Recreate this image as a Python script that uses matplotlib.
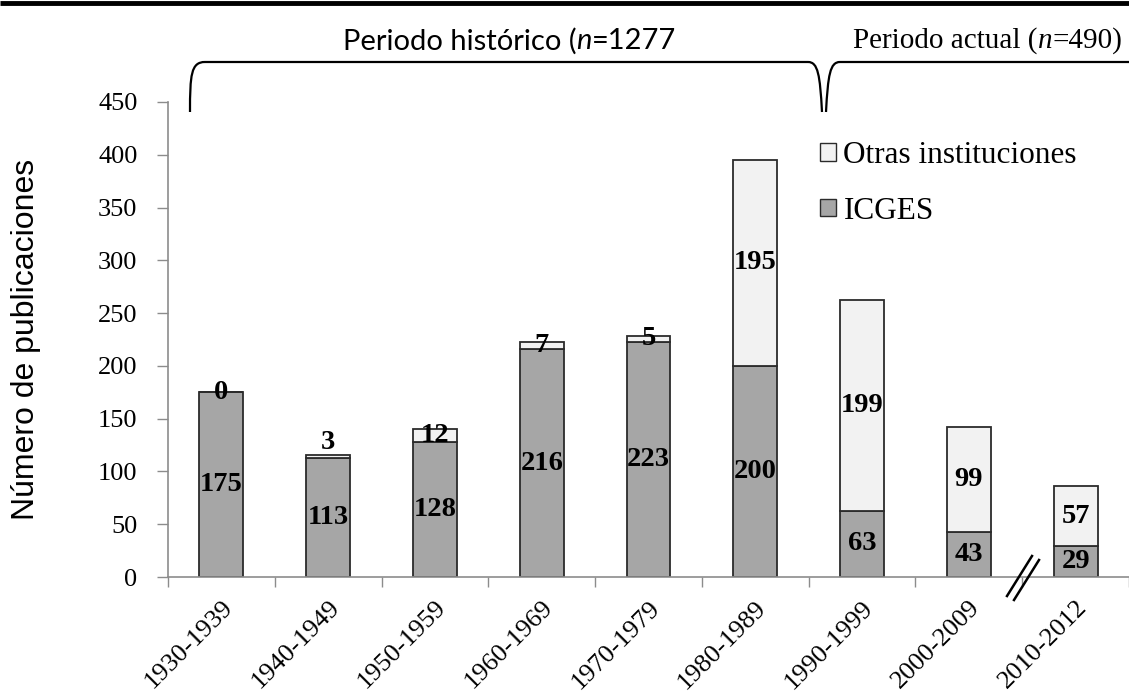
import numpy as np
import matplotlib
matplotlib.use('Agg')
import matplotlib.pyplot as plt
from matplotlib.path import Path
from matplotlib.patches import PathPatch, Patch

# data
periods = ['1930-1939', '1940-1949', '1950-1959', '1960-1969', '1970-1979',
           '1980-1989', '1990-1999', '2000-2009', '2010-2012']
icges = [175, 113, 128, 216, 223, 200, 63, 43, 29]
otras = [0, 3, 12, 7, 5, 195, 199, 99, 57]

C_ICGES = '#a6a6a6'
C_OTRAS = '#f2f2f2'
C_EDGE = '#2b2b2b'
C_AXIS = '#8c8c8c'
SERIF = 'Liberation Serif'

W, H = 1129, 694
fig = plt.figure(figsize=(W / 100, H / 100), dpi=100)
ax = fig.add_axes([168 / W, 1 - 577 / H, 961 / W, 475 / H])

x = np.arange(len(periods))
bw = 0.41
ax.bar(x, icges, bw, color=C_ICGES, edgecolor=C_EDGE, linewidth=1.3,
       label='ICGES', zorder=2)
ax.bar(x, otras, bw, bottom=icges, color=C_OTRAS, edgecolor=C_EDGE,
       linewidth=1.3, label='Otras instituciones', zorder=2)

lab_kw = dict(ha='center', va='center', fontsize=20.5, fontweight='bold',
              family=SERIF, zorder=3)
for i in range(len(periods)):
    ax.text(x[i], icges[i] / 2, str(icges[i]), **lab_kw)
    y2 = icges[i] + otras[i] / 2
    if periods[i] == '1940-1949':
        y2 += 13  # small segment, label sits above the bar
    ax.text(x[i], y2, str(otras[i]), **lab_kw)

ax.set_xlim(-0.5, len(periods) - 0.5)
ax.set_ylim(0, 450)
ax.set_yticks(np.arange(0, 451, 50))
ax.set_xticks(x)
ax.set_xticks(np.arange(-0.5, len(periods), 1), minor=True)
ax.set_xticklabels(periods, rotation=45, ha='right', rotation_mode='anchor',
                   family=SERIF, fontsize=19)
ax.tick_params(axis='x', which='major', length=0, pad=14)
ax.tick_params(axis='x', which='minor', length=7, color=C_AXIS, width=1)
ax.tick_params(axis='y', length=8, color=C_AXIS, width=1, pad=14)
for t in ax.get_yticklabels():
    t.set_family(SERIF)
    t.set_fontsize(19)
for s in ['top', 'right']:
    ax.spines[s].set_visible(False)
for s in ['left', 'bottom']:
    ax.spines[s].set_color(C_AXIS)
    ax.spines[s].set_linewidth(1.2)

ax.set_ylabel('Número de publicaciones', family='Liberation Sans', fontsize=23,
              va='center')
ax.yaxis.set_label_coords((26 - 168) / 961, 0.5)

handles = [Patch(facecolor=C_OTRAS, edgecolor=C_EDGE, label='Otras instituciones'),
           Patch(facecolor=C_ICGES, edgecolor=C_EDGE, label='ICGES')]
ax.legend(handles=handles, loc='upper left',
          bbox_to_anchor=((820 - 168) / 961, (577 - 141) / 475),
          frameon=False, borderpad=0, borderaxespad=0,
          handlelength=0.5, handleheight=0.5, handletextpad=0.25,
          labelspacing=0.85, prop={'family': SERIF, 'size': 22.5})

# overlay in pixel coordinates for decorations
ov = fig.add_axes([0, 0, 1, 1], zorder=5)
ov.set_xlim(0, W)
ov.set_ylim(H, 0)
ov.axis('off')
ov.patch.set_alpha(0)

ov.plot([0, W], [3, 3], color='black', lw=3.5, solid_capstyle='butt')

brace1 = Path([(190, 112), (190, 75), (191, 62), (205, 62), (808, 62),
               (818, 62), (820, 75), (822, 112)],
              [Path.MOVETO, Path.CURVE4, Path.CURVE4, Path.CURVE4, Path.LINETO,
               Path.CURVE4, Path.CURVE4, Path.CURVE4])
brace2 = Path([(826, 112), (828, 75), (830, 62), (840, 62), (W, 62)],
              [Path.MOVETO, Path.CURVE4, Path.CURVE4, Path.CURVE4, Path.LINETO])
for p in (brace1, brace2):
    ov.add_patch(PathPatch(p, facecolor='none', edgecolor='black', lw=1.6))

# break marks on the x axis
ov.plot([1007, 1032], [596, 556], color='black', lw=1.8)
ov.plot([1014, 1039], [600, 560], color='black', lw=1.8)


def rich_text(xs, y, parts):
    # draw consecutive pieces of text, left to right
    r = fig.canvas.get_renderer()
    cur = xs
    for s, kw in parts:
        t = ov.text(cur, y, s, va='center', ha='left', **kw)
        bb = t.get_window_extent(renderer=r)
        cur += bb.width


sans = dict(family='Lato', fontsize=21)
rich_text(343, 41, [('Periodo histórico (', sans),
                    ('n', dict(sans, style='italic')),
                    ('=1277', sans)])
ser = dict(family=SERIF, fontsize=21)
rich_text(853, 41, [('Periodo actual (', ser),
                    ('n', dict(ser, style='italic')),
                    ('=490)', ser)])

fig.savefig('out.png', dpi=100)
